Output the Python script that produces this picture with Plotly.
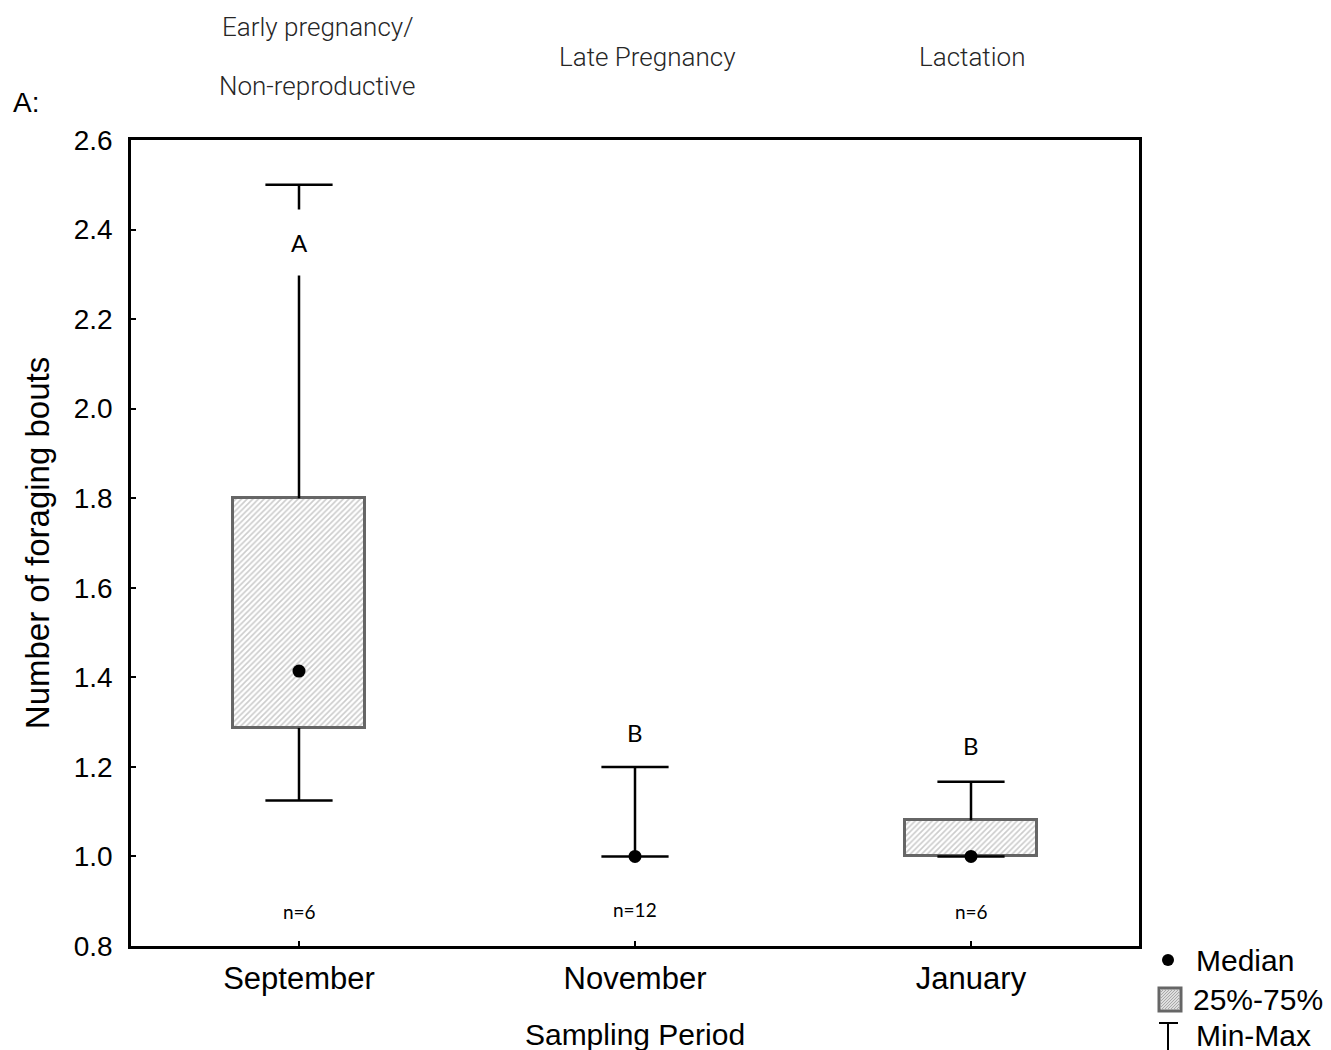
import plotly.graph_objects as go

# ---- data ----
categories = ["September", "November", "January"]
minimum = [1.125, 1.0, 1.0]
q1 = [1.287, 1.0, 1.0]
median = [1.414, 1.0, 1.0]
q3 = [1.8, 1.0, 1.081]
maximum = [2.5, 1.2, 1.167]
sig_letters = ["A", "B", "B"]
letter_y = [2.37, 1.276, 1.247]
n_labels = ["n=6", "n=12", "n=6"]
n_label_y = [0.876, 0.881, 0.878]
phase_line1 = ["Early pregnancy/", "Late Pregnancy", "Lactation"]
phase_line2 = ["Non-reproductive", "", ""]
y_ticks = [0.8, 1.0, 1.2, 1.4, 1.6, 1.8, 2.0, 2.2, 2.4, 2.6]

W, H = 1331, 1050
OFF = 6  # page body offset in the browser
L, R, T, B = 129, 194, 138, 106   # plot box as seen in the reference
PW, PH = W - L - R, H - T - B


def px(xp):
    return (xp - L) / PW


def py(yp):
    return (H - B - yp) / PH


xpos = list(range(len(categories)))
box_w = 0.39
cap_hw = 0.1
box_h = [(b - a) if b > a else None for a, b in zip(q1, q3)]

fig = go.Figure()

# boxes (25%-75%)
fig.add_trace(go.Bar(
    x=xpos, y=box_h, base=q1, width=box_w,
    marker=dict(color="white", line=dict(color="#666666", width=3),
                pattern=dict(shape="/", fgcolor="#999999", bgcolor="white",
                             size=4, solidity=0.4)),
    showlegend=False, hoverinfo="skip"))

# whiskers (min-max)
wx, wy = [], []
for i in xpos:
    if maximum[i] > q3[i]:
        wx += [i, i, None]
        wy += [q3[i], maximum[i], None]
    if minimum[i] < q1[i]:
        wx += [i, i, None]
        wy += [minimum[i], q1[i], None]
    wx += [i - cap_hw, i + cap_hw, None, i - cap_hw, i + cap_hw, None]
    wy += [maximum[i], maximum[i], None, minimum[i], minimum[i], None]
fig.add_trace(go.Scatter(x=wx, y=wy, mode="lines",
                         line=dict(color="black", width=2.5),
                         showlegend=False, hoverinfo="skip"))

# medians
fig.add_trace(go.Scatter(x=xpos, y=median, mode="markers",
                         marker=dict(color="black", size=13),
                         showlegend=False))

ann = []
for i in xpos:
    ann.append(dict(x=i, y=letter_y[i], xref="x", yref="y", text=sig_letters[i],
                    showarrow=False, bgcolor="white", borderpad=18 if i == 0 else 2,
                    xanchor="center", yanchor="middle",
                    font=dict(family="Lato", size=24, color="black")))
    ann.append(dict(x=i, y=n_label_y[i], xref="x", yref="y", text=n_labels[i],
                    showarrow=False, xanchor="center", yanchor="middle",
                    font=dict(family="Lato", size=19, color="black")))

# phase labels above plot
phase_font = dict(family="Roboto", size=26, color="#262626", weight=300)
phase_x = [315, 645, 970]
for i in xpos:
    if phase_line2[i]:
        ann.append(dict(x=px(phase_x[i]), y=py(25), xref="paper", yref="paper",
                        text=phase_line1[i], showarrow=False, font=phase_font,
                        xanchor="center", yanchor="middle"))
        ann.append(dict(x=px(phase_x[i]), y=py(84), xref="paper", yref="paper",
                        text=phase_line2[i], showarrow=False, font=phase_font,
                        xanchor="center", yanchor="middle"))
    else:
        ann.append(dict(x=px(phase_x[i]), y=py(55), xref="paper", yref="paper",
                        text=phase_line1[i], showarrow=False, font=phase_font,
                        xanchor="center", yanchor="middle"))
ann.append(dict(x=px(9), y=py(101), xref="paper", yref="paper", text="A:",
                xanchor="left", yanchor="middle", showarrow=False,
                font=dict(family="Arial", size=28, color="black")))

# manual legend
leg_font = dict(family="Arial", size=30, color="black")
for txt, xl, yc in [("Median", 1192, 958), ("25%-75%", 1189, 997), ("Min-Max", 1192, 1033)]:
    ann.append(dict(x=px(xl), y=py(yc), xref="paper", yref="paper", text=txt,
                    xanchor="left", yanchor="middle", showarrow=False, font=leg_font))

shapes = [
    dict(type="circle", xref="paper", yref="paper",
         x0=px(1160), x1=px(1172), y0=py(964), y1=py(952),
         fillcolor="black", line=dict(width=0)),
    dict(type="rect", xref="paper", yref="paper",
         x0=px(1157), x1=px(1179), y0=py(1009), y1=py(986),
         fillcolor="#dedede", line=dict(color="#666666", width=3)),
    dict(type="line", xref="paper", yref="paper",
         x0=px(1166), x1=px(1166), y0=py(1021), y1=py(1049),
         line=dict(color="black", width=2)),
    dict(type="line", xref="paper", yref="paper",
         x0=px(1157), x1=px(1176), y0=py(1021), y1=py(1021),
         line=dict(color="black", width=2)),
    dict(type="line", xref="paper", yref="paper",
         x0=px(1157), x1=px(1176), y0=py(1049), y1=py(1049),
         line=dict(color="black", width=2)),
]
# hatch lines inside legend swatch
hx0, hx1, hy0, hy1 = 1158, 1178, 987, 1008
k = -20
while k < 22:
    xa, ya = hx0 + k, hy1
    xb, yb = hx0 + k + (hy1 - hy0), hy0
    if xa < hx0:
        ya -= hx0 - xa
        xa = hx0
    if xb > hx1:
        yb += xb - hx1
        xb = hx1
    if xa < xb:
        shapes.append(dict(type="line", xref="paper", yref="paper",
                           x0=px(xa), x1=px(xb), y0=py(ya), y1=py(yb),
                           line=dict(color="#a8a8a8", width=1)))
    k += 3

fig.update_layout(
    width=W, height=H,
    margin=dict(l=L - OFF, r=R + OFF, t=T - OFF, b=B + OFF),
    paper_bgcolor="white", plot_bgcolor="white",
    annotations=ann, shapes=shapes,
    showlegend=False,
    font=dict(family="Arial", color="black"),
    bargap=0,
)
fig.update_xaxes(
    range=[-0.5, 2.5], tickvals=xpos, ticktext=categories,
    showline=True, linecolor="black", linewidth=2.5, mirror=True,
    ticks="inside", ticklen=5, tickwidth=2, tickcolor="black",
    tickfont=dict(family="Arial", size=31, color="black"),
    ticklabelstandoff=3, showgrid=False, zeroline=False,
    title=dict(text="Sampling Period", standoff=30,
               font=dict(family="Arial", size=30, color="black")),
)
fig.update_yaxes(
    range=[0.8, 2.6], tickvals=y_ticks, ticktext=[f"{v:.1f}" for v in y_ticks],
    showline=True, linecolor="black", linewidth=2.5, mirror=True,
    ticks="inside", ticklen=5, tickwidth=2, tickcolor="black",
    tickfont=dict(family="Arial", size=28, color="black"),
    ticklabelstandoff=10, showgrid=False, zeroline=False,
    title=dict(text="Number of foraging bouts", standoff=15,
               font=dict(family="Arial", size=33, color="black")),
)

fig.write_html("out.html")
